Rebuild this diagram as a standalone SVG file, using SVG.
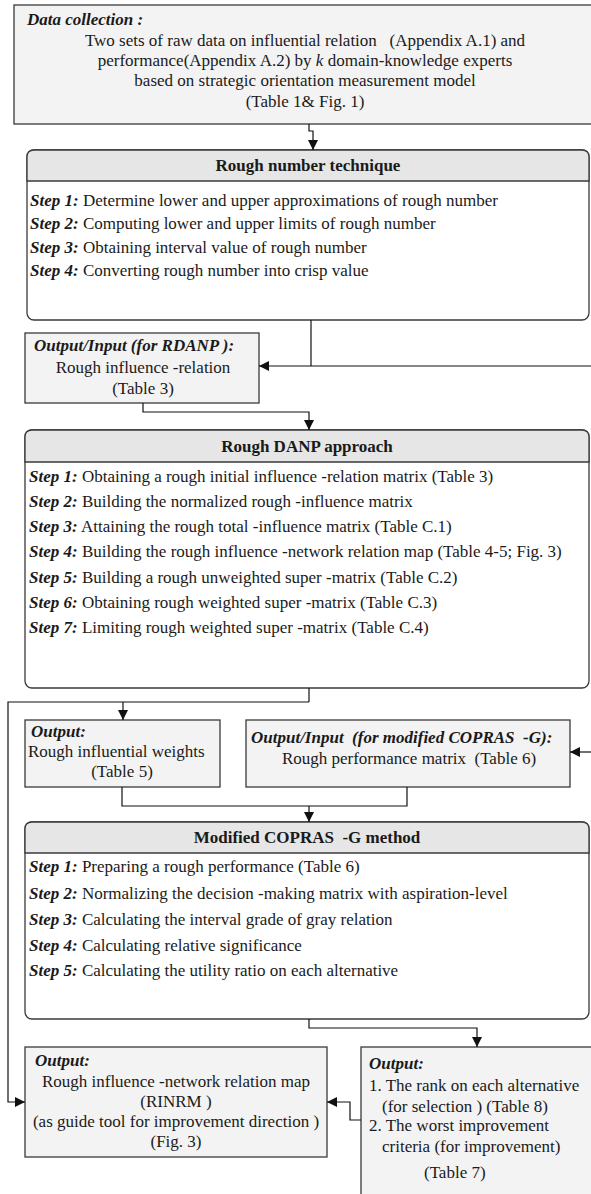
<svg xmlns="http://www.w3.org/2000/svg" width="591" height="1194" viewBox="0 0 591 1194">
<defs>
<marker id="ah" viewBox="0 0 10 10" refX="10" refY="5" markerWidth="10" markerHeight="10" markerUnits="userSpaceOnUse" orient="auto">
<path d="M0,0 L10,5 L0,10 z" fill="#111"/>
</marker>
</defs>
<style>
text{font-family:"Liberation Serif","Times New Roman",serif;font-size:17px;fill:#1a1a1a}
.bi{font-weight:bold;font-style:italic}
.b{font-weight:bold}
.c{text-anchor:middle}
.box{fill:#f3f3f3;stroke:#3a3a3a;stroke-width:1.3}
.body{fill:#fff;stroke:#3a3a3a;stroke-width:1.3}
.hdr{fill:#e6e6e6;stroke:#3a3a3a;stroke-width:1.3}
.ln{fill:none;stroke:#111;stroke-width:1.2}
</style>
<rect width="591" height="1194" fill="#fff"/>

<g id="data-collection">
<rect class="box" x="14" y="5" width="585" height="119"/>
<text x="27" y="25" class="bi">Data collection :</text>
<text x="305" y="46" class="c" xml:space="preserve">Two sets of raw data on influential relation   (Appendix A.1) and</text>
<text x="305" y="66" class="c">performance(Appendix A.2) by <tspan font-style="italic">k</tspan> domain-knowledge experts</text>
<text x="305" y="86" class="c">based on strategic orientation measurement model</text>
<text x="305" y="107" class="c">(Table 1&amp; Fig. 1)</text>
</g>

<g id="rough-number">
<rect class="body" x="27" y="150" width="562" height="170" rx="7"/>
<path class="hdr" d="M27,181 L27,157 Q27,150 34,150 L582,150 Q589,150 589,157 L589,181 Z"/>
<text x="308" y="171" class="b c">Rough number technique</text>
<text x="30" y="206"><tspan class="bi">Step 1:</tspan> Determine lower and upper approximations of rough number</text>
<text x="30" y="229"><tspan class="bi">Step 2:</tspan> Computing lower and upper limits of rough number</text>
<text x="30" y="253"><tspan class="bi">Step 3:</tspan> Obtaining interval value of rough number</text>
<text x="30" y="276"><tspan class="bi">Step 4:</tspan> Converting rough number into crisp value</text>
</g>

<g id="output-rdanp">
<rect class="box" x="25" y="333" width="234" height="70"/>
<text x="34" y="351" class="bi">Output/Input (for RDANP ):</text>
<text x="143" y="373" class="c">Rough influence -relation</text>
<text x="143" y="394" class="c">(Table 3)</text>
</g>

<g id="rough-danp">
<rect class="body" x="25" y="430" width="564" height="258" rx="7"/>
<path class="hdr" d="M25,462 L25,437 Q25,430 32,430 L582,430 Q589,430 589,437 L589,462 Z"/>
<text x="307" y="452" class="b c">Rough DANP approach</text>
<text x="29" y="482"><tspan class="bi">Step 1:</tspan> Obtaining a rough initial influence -relation matrix  (Table 3)</text>
<text x="29" y="507"><tspan class="bi">Step 2:</tspan> Building the normalized rough -influence matrix</text>
<text x="29" y="532"><tspan class="bi">Step 3:</tspan> Attaining the rough total -influence matrix  (Table C.1)</text>
<text x="29" y="557"><tspan class="bi">Step 4:</tspan> Building the rough influence -network relation map  (Table 4-5; Fig. 3)</text>
<text x="29" y="583"><tspan class="bi">Step 5:</tspan> Building a rough unweighted super -matrix (Table C.2)</text>
<text x="29" y="608"><tspan class="bi">Step 6:</tspan> Obtaining rough weighted super -matrix (Table C.3)</text>
<text x="29" y="633"><tspan class="bi">Step 7:</tspan> Limiting rough weighted super -matrix (Table C.4)</text>
</g>

<g id="output-weights">
<rect class="box" x="25" y="720" width="195" height="67"/>
<text x="31" y="737" class="bi">Output:</text>
<text x="28" y="757">Rough influential weights</text>
<text x="122" y="777" class="c">(Table 5)</text>
</g>

<g id="output-copras-input">
<rect class="box" x="246" y="720" width="324" height="67"/>
<text x="251" y="743" class="bi" xml:space="preserve">Output/Input  (for modified COPRAS  -G):</text>
<text x="409" y="764" class="c" xml:space="preserve">Rough performance matrix  (Table 6)</text>
</g>

<g id="copras">
<rect class="body" x="25" y="822" width="564" height="197" rx="7"/>
<path class="hdr" d="M25,853 L25,829 Q25,822 32,822 L582,822 Q589,822 589,829 L589,853 Z"/>
<text x="307" y="843" class="b c" xml:space="preserve">Modified COPRAS  -G method</text>
<text x="29" y="872"><tspan class="bi">Step 1:</tspan> Preparing a rough performance  (Table 6)</text>
<text x="29" y="899"><tspan class="bi">Step 2:</tspan> Normalizing the decision -making matrix with aspiration-level</text>
<text x="29" y="925"><tspan class="bi">Step 3:</tspan> Calculating the interval grade of gray relation</text>
<text x="29" y="951"><tspan class="bi">Step 4:</tspan> Calculating relative significance</text>
<text x="29" y="976"><tspan class="bi">Step 5:</tspan> Calculating the utility ratio on each alternative</text>
</g>

<g id="output-rinrm">
<rect class="box" x="25" y="1047" width="302" height="110"/>
<text x="35" y="1066" class="bi">Output:</text>
<text x="176" y="1087" class="c">Rough influence -network relation map</text>
<text x="176" y="1107" class="c">(RINRM )</text>
<text x="176" y="1127" class="c">(as guide tool for improvement direction )</text>
<text x="176" y="1147" class="c">(Fig. 3)</text>
</g>

<g id="output-rank">
<rect class="box" x="361" y="1047" width="240" height="160"/>
<text x="369" y="1069" class="bi">Output:</text>
<text x="369" y="1091">1. The rank on each alternative</text>
<text x="382" y="1112">(for selection ) (Table 8)</text>
<text x="369" y="1131">2. The worst improvement</text>
<text x="382" y="1152">criteria (for improvement)</text>
<text x="424" y="1178">(Table 7)</text>
</g>

<g id="connectors">
<path class="ln" d="M309,124 V131 H313 V150" marker-end="url(#ah)"/>
<path class="ln" d="M311,320 V366"/>
<path class="ln" d="M591,366 H259" marker-end="url(#ah)"/>
<path class="ln" d="M143,403 V412 H309 V430" marker-end="url(#ah)"/>
<path class="ln" d="M309,688 V702"/>
<path class="ln" d="M309,702 H8 V1102 H25" marker-end="url(#ah)"/>
<path class="ln" d="M123,702 V720" marker-end="url(#ah)"/>
<path class="ln" d="M591,752 H570" marker-end="url(#ah)"/>
<path class="ln" d="M122,787 V806 H407 V787"/>
<path class="ln" d="M309,806 V822" marker-end="url(#ah)"/>
<path class="ln" d="M309,1019 V1028 H477 V1047" marker-end="url(#ah)"/>
<path class="ln" d="M361,1120 H350 V1102 H327" marker-end="url(#ah)"/>
</g>
</svg>
